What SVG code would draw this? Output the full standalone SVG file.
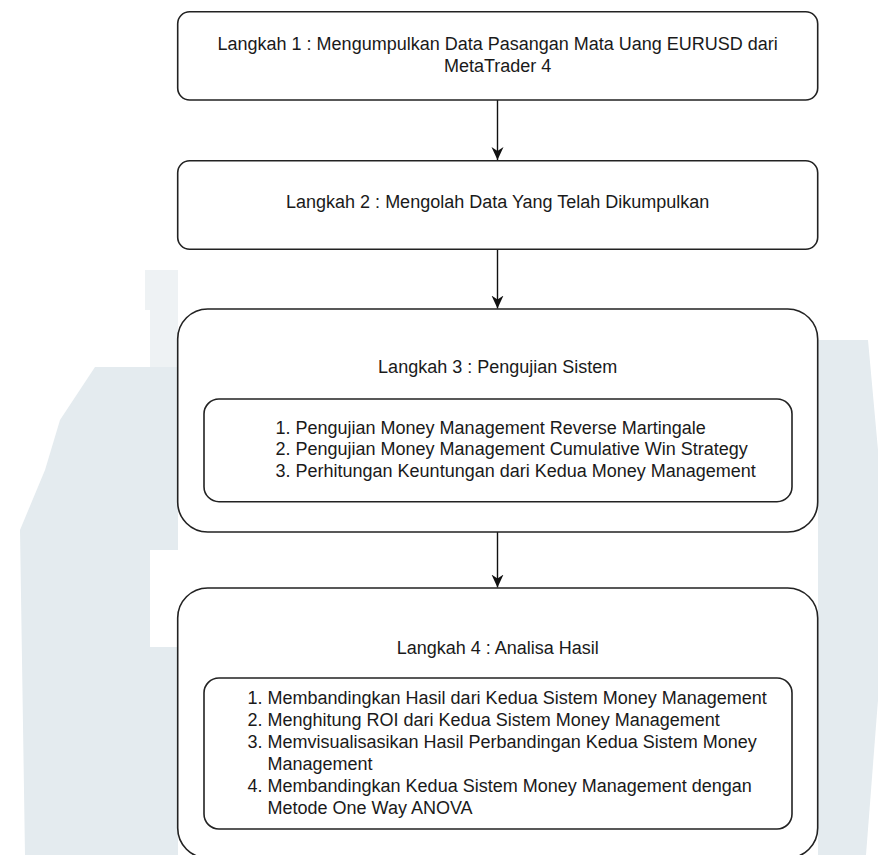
<svg xmlns="http://www.w3.org/2000/svg" width="888" height="855" viewBox="0 0 888 855">
<defs>
<style>
.box{fill:#ffffff;stroke:#222222;stroke-width:1.6}
.t{font-family:"Liberation Sans",Arial,sans-serif;font-size:18px;fill:#1a1a1a}
.c{text-anchor:middle}
.edge{stroke:#111111;stroke-width:1.4;fill:none}
.wm{fill:#e4ebef}
.wm2{fill:#eef2f4}
</style>
<marker id="ah" markerWidth="14" markerHeight="14" viewBox="0 0 14 14" refX="13" refY="7" orient="auto" markerUnits="userSpaceOnUse">
<path d="M13,7 L0,1 L4,7 L0,13 Z" fill="#111111"/>
</marker>
</defs>
<rect width="888" height="855" fill="#ffffff"/>
<g id="watermark">
<rect class="wm2" x="145" y="270" width="33" height="40"/>
<polygon class="wm2" points="150,310 178,310 178,408 150,408"/>
<polygon class="wm" points="95,367 178,367 178,550 150,550 150,647 178,647 178,855 25,855 20,530 45,470 60,420"/>
<polygon class="wm" points="818,340 868,340 878,450 878,700 866,855 818,855"/>
</g>
<g id="connectors">
<line class="edge" x1="497.5" y1="100" x2="497.5" y2="160" marker-end="url(#ah)"/>
<line class="edge" x1="497.5" y1="249.3" x2="497.5" y2="308.5" marker-end="url(#ah)"/>
<line class="edge" x1="497.5" y1="532" x2="497.5" y2="587.5" marker-end="url(#ah)"/>
</g>
<g id="step1">
<rect class="box" x="177.7" y="11.7" width="640" height="88.3" rx="12" ry="12"/>
<text class="t c" x="497.7" y="49.5">Langkah 1 : Mengumpulkan Data Pasangan Mata Uang EURUSD dari</text>
<text class="t c" x="497.7" y="71.5">MetaTrader 4</text>
</g>
<g id="step2">
<rect class="box" x="177.7" y="160.7" width="640" height="88.6" rx="12" ry="12"/>
<text class="t c" x="497.7" y="208">Langkah 2 : Mengolah Data Yang Telah Dikumpulkan</text>
</g>
<g id="step3">
<rect class="box" x="177.7" y="309" width="640" height="223" rx="30" ry="30"/>
<text class="t c" x="497.7" y="372.5">Langkah 3 : Pengujian Sistem</text>
<g id="step3-list">
<rect class="box" x="204" y="399" width="588" height="102.7" rx="15" ry="15"/>
<text class="t" x="275.5" y="433.5">1. Pengujian Money Management Reverse Martingale</text>
<text class="t" x="275.5" y="455">2. Pengujian Money Management Cumulative Win Strategy</text>
<text class="t" x="275.5" y="476.5">3. Perhitungan Keuntungan dari Kedua Money Management</text>
</g>
</g>
<g id="step4">
<rect class="box" x="177.7" y="588" width="640" height="270" rx="30" ry="30"/>
<text class="t c" x="497.7" y="653.5">Langkah 4 : Analisa Hasil</text>
<g id="step4-list">
<rect class="box" x="204" y="678" width="588" height="151" rx="15" ry="15"/>
<text class="t" x="247.5" y="703.5">1. Membandingkan Hasil dari Kedua Sistem Money Management</text>
<text class="t" x="247.5" y="725.5">2. Menghitung ROI dari Kedua Sistem Money Management</text>
<text class="t" x="247.5" y="747.5">3. Memvisualisasikan Hasil Perbandingan Kedua Sistem Money</text>
<text class="t" x="267.5" y="769.5">Management</text>
<text class="t" x="247.5" y="791.5">4. Membandingkan Kedua Sistem Money Management dengan</text>
<text class="t" x="267.5" y="813.5">Metode One Way ANOVA</text>
</g>
</g>
</svg>
